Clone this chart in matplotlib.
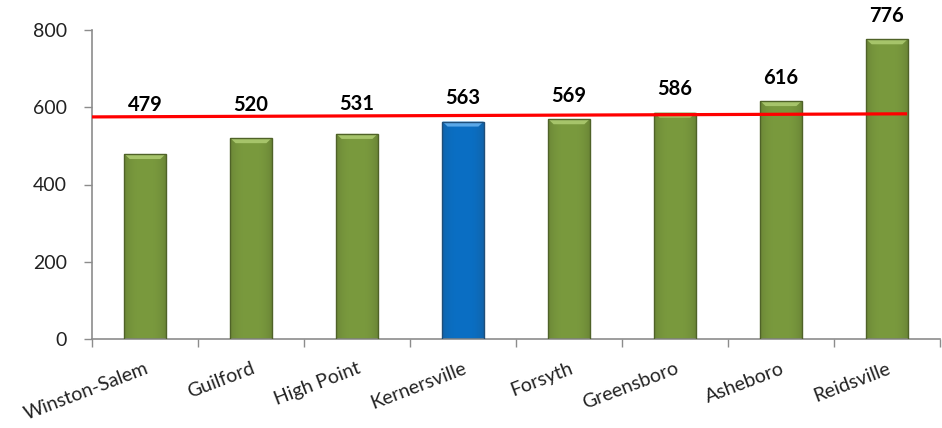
import numpy as np
import matplotlib
matplotlib.use("Agg")
import matplotlib.pyplot as plt
from matplotlib.patches import Polygon, Rectangle
from matplotlib.colors import to_rgb

plt.rcParams['font.family'] = ['Lato', 'DejaVu Sans']

categories = ["Winston-Salem", "Guilford", "High Point", "Kernersville",
              "Forsyth", "Greensboro", "Asheboro", "Reidsville"]
values = [479, 520, 531, 563, 569, 586, 616, 776]
highlight = "Kernersville"
trend_start = 575
trend_end = 583
y_ticks = [0, 200, 400, 600, 800]

fig = plt.figure(figsize=(9.42, 4.28), dpi=100)
ax = fig.add_axes([92/942, 1-339/428, (940-92)/942, (339-30)/428])

n = len(categories)
x = np.arange(n)
width = 0.39

green = dict(body="#7A9A3E", light="#A6C46A", dark="#4F6228")
blue = dict(body="#0A6FC4", light="#5AA8E8", dark="#1F4E79")

grad = np.linspace(0, 1, 64)
for xi, v, c in zip(x, values, categories):
    col = blue if c == highlight else green
    l, r = xi - width/2, xi + width/2
    b = np.array(to_rgb(col["body"]))
    d = np.array(to_rgb(col["dark"]))
    prof = 1 - 0.35 * (np.abs(grad - 0.5) * 2) ** 3
    img = (d[None, :] + (b - d)[None, :] * prof[:, None])[None, :, :]
    rect = Rectangle((l, 0), width, v, facecolor="none", edgecolor=col["dark"], lw=1.0, zorder=3)
    im = ax.imshow(img, extent=[l, r, 0, v], aspect="auto", zorder=2, interpolation="bilinear")
    clip = Rectangle((l, 0), width, v, transform=ax.transData)
    im.set_clip_path(clip)
    ax.add_patch(rect)
    bh = 13
    bi = 0.05
    ax.add_patch(Polygon([[l, v], [r, v], [r - bi, v - bh], [l + bi, v - bh]],
                         closed=True, facecolor=col["light"], edgecolor="none", zorder=2.5))

lx = np.array([-0.5, n - 1 + 0.19])
ly = np.array([trend_start, trend_end])
ax.plot(lx, ly, color="#FF0000", lw=2.3, zorder=4, solid_capstyle="butt")

slope = (trend_end - trend_start) / (lx[1] - lx[0])
for xi, v in zip(x, values):
    tv = trend_start + slope * (xi - lx[0])
    ly_ = max(v + 60, tv + 30)
    ax.text(xi, ly_, str(v), ha="center", va="center", fontsize=14.5,
            fontweight="bold", color="#000000", zorder=5)

ax.set_xlim(-0.5, n - 0.5)
ax.set_ylim(0, 800)
ax.set_yticks(y_ticks)
ax.set_yticklabels([str(t) for t in y_ticks], fontsize=14, color="#222222")
ax.set_xticks(x)
ax.set_xticklabels(categories, rotation=21, ha="right", rotation_mode="anchor",
                   fontsize=14, color="#222222")
ax.tick_params(axis="x", length=0, pad=15)
ax.set_xticks(np.arange(n + 1) - 0.5, minor=True)
ax.tick_params(axis="x", which="minor", length=6, color="#8C8C8C", width=1)
ax.tick_params(axis="y", length=6, color="#8C8C8C", width=1, pad=12)
for s in ["top", "right"]:
    ax.spines[s].set_visible(False)
for s in ["left", "bottom"]:
    ax.spines[s].set_color("#8C8C8C")
    ax.spines[s].set_linewidth(1.2)

fig.savefig("out.png", dpi=100)
